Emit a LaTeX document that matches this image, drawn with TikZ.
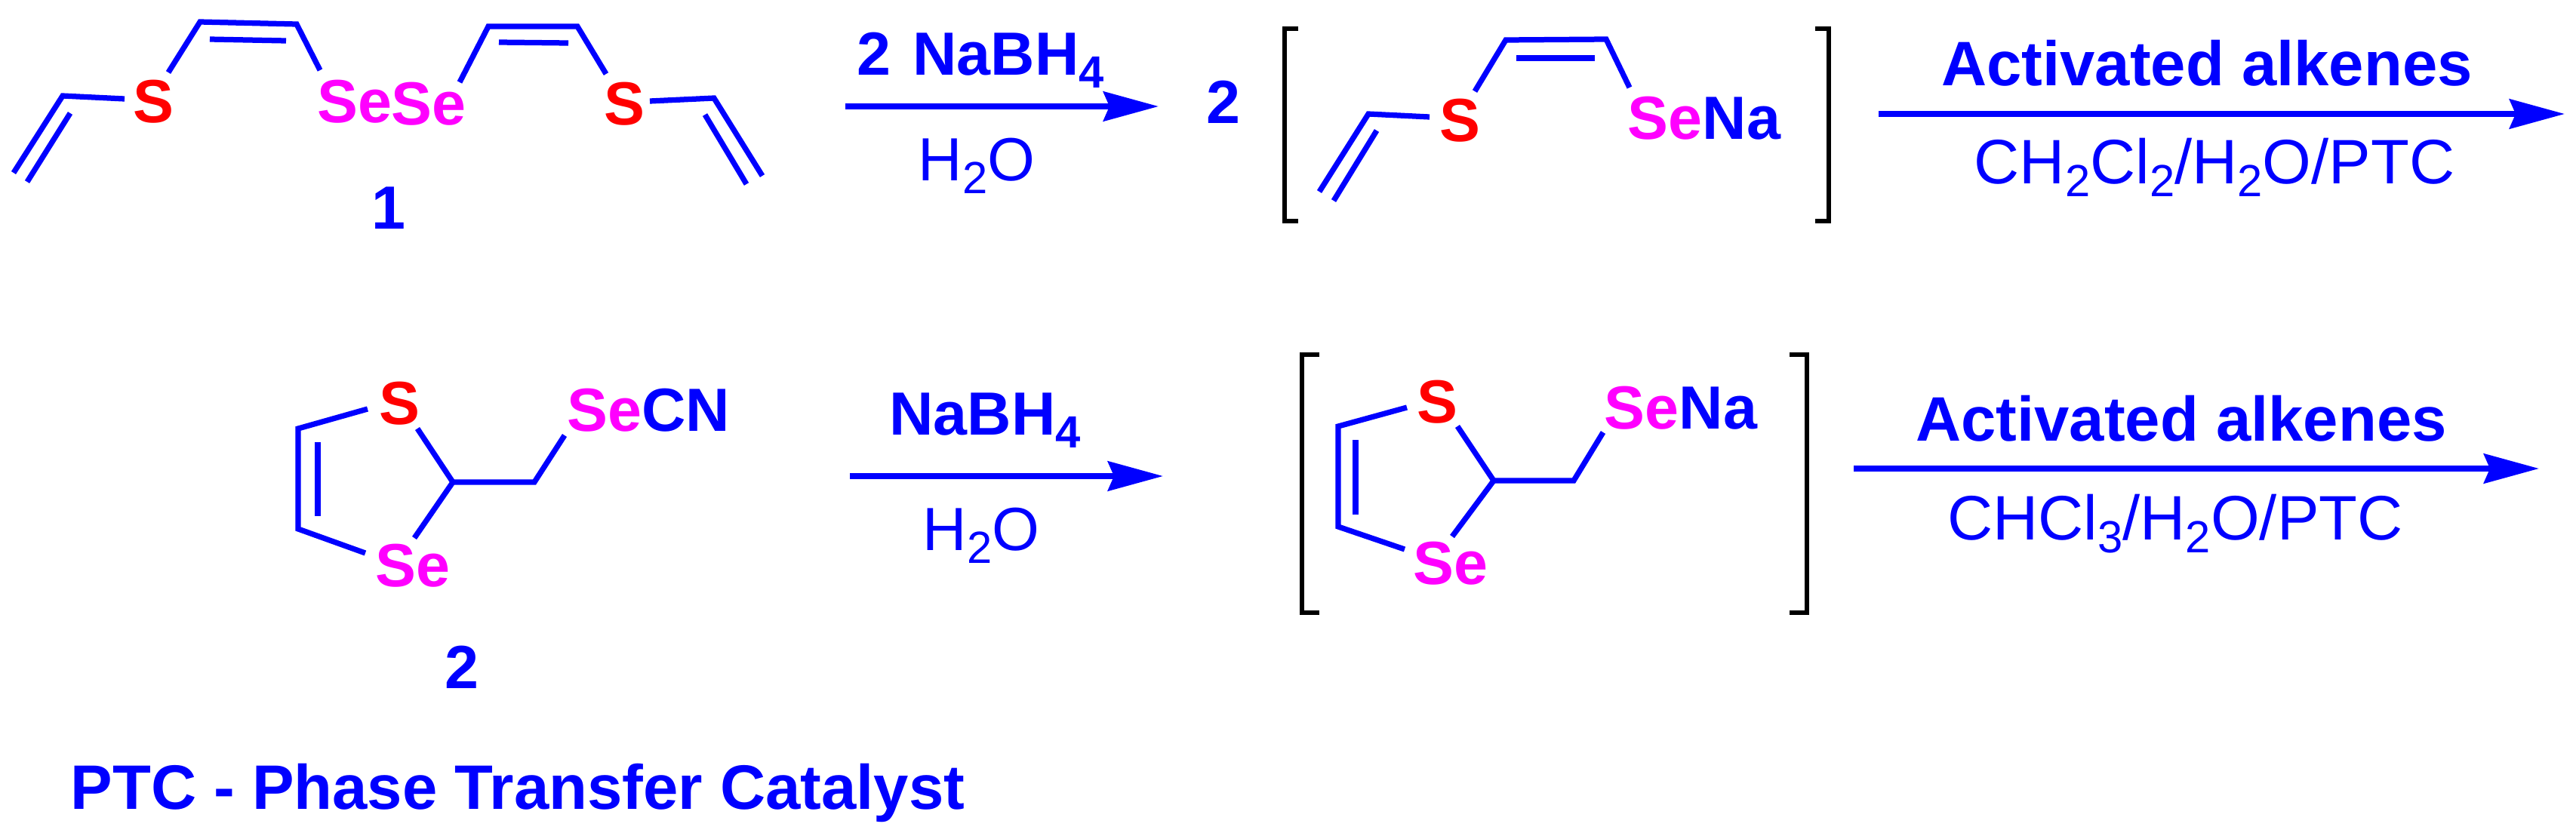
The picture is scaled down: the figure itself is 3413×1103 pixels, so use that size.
\documentclass[tikz,border=0pt]{standalone}
\usepackage{fontspec}
\setmainfont{Liberation Sans}
\usetikzlibrary{arrows.meta}
\definecolor{cblue}{HTML}{0000FF}
\definecolor{cred}{HTML}{FF0000}
\definecolor{cmag}{HTML}{FF00FF}
\newcommand{\bigf}{\fontsize{46pt}{50pt}\selectfont}
\newcommand{\longf}{\fontsize{47.4pt}{50pt}\selectfont}
\newcommand{\subf}[1]{\raisebox{-9.8pt}{\fontsize{34pt}{36pt}\selectfont #1}}
\newcommand{\Se}{\textcolor{cmag}{Se}}
\tikzset{
  bond/.style={draw=cblue,line width=0.145cm,line cap=butt,line join=miter},
  brk/.style={draw=black,line width=0.12cm,line join=miter},
  rxn/.style={draw=cblue,line width=0.16cm,-{Stealth[length=1.46cm,width=0.78cm,inset=0.16cm]}},
  lab/.style={inner sep=0pt,outer sep=0pt,anchor=base,font=\bigf\bfseries,text=cblue},
  reg/.style={inner sep=0pt,outer sep=0pt,anchor=base,font=\bigf,text=cblue},
  lablong/.style={lab,font=\longf\bfseries},
  reglong/.style={reg,font=\longf},
}
\begin{document}
\begin{tikzpicture}[x=0.02cm,y=-0.02cm]
\useasboundingbox (0,0) rectangle (3413,1103);
% --- compound 1
\node[lab,text=cred] (s1) at (203,162) {S};
\node[lab] (sese1) at (470,162) {\Se};
\node[lab] (sese2) at (568,165) {\Se};
\node[lab,text=cred] (s2) at (827,165) {S};
\node[lab] (n1) at (515,303) {1};
\coordinate (a1) at (18,229); \coordinate (a2) at (83,127); \coordinate (a3) at (165,131);
\coordinate (a4) at (36,241); \coordinate (a5) at (93,150);
\coordinate (b1) at (223,96); \coordinate (b2) at (265,29); \coordinate (b3) at (393,32); \coordinate (b4) at (424,93);
\coordinate (b5) at (278,52); \coordinate (b6) at (379,54);
\coordinate (c1) at (609,109); \coordinate (c2) at (647,35); \coordinate (c3) at (765,35); \coordinate (c4) at (803,98);
\coordinate (c5) at (661,56); \coordinate (c6) at (753,57);
\coordinate (d1) at (861,134); \coordinate (d2) at (946,130); \coordinate (d3) at (1010,233);
\coordinate (d4) at (934,152); \coordinate (d5) at (989,244);
\draw[bond] (a1) -- (a2) -- (a3);
\draw[bond] (a4) -- (a5);
\draw[bond] (b1) -- (b2) -- (b3) -- (b4);
\draw[bond] (b5) -- (b6);
\draw[bond] (c1) -- (c2) -- (c3) -- (c4);
\draw[bond] (c5) -- (c6);
\draw[bond] (d1) -- (d2) -- (d3);
\draw[bond] (d4) -- (d5);
% --- arrow 1
\node[lab] (r1a) at (1299,99) {2\hspace{4pt} NaBH\subf{4}};
\coordinate (r1s) at (1120,141); \coordinate (r1e) at (1535,141);
\draw[rxn] (r1s) -- (r1e);
\node[reg] (r1b) at (1294,239) {H\subf{2}O};
\node[lab] (two) at (1621,163) {2};
% --- bracket 1
\coordinate (k1a) at (1720,38); \coordinate (k1b) at (1702,38); \coordinate (k1c) at (1702,293); \coordinate (k1d) at (1720,293);
\draw[brk] (k1a) -- (k1b) -- (k1c) -- (k1d);
\node[lab,text=cred] (s3) at (1934,187) {S};
\node[lab] (sena1) at (2258,184) {\Se Na};
\coordinate (e1) at (1748,254); \coordinate (e2) at (1813,151); \coordinate (e3) at (1894,155);
\coordinate (e4) at (1767,266); \coordinate (e5) at (1824,173);
\coordinate (f1) at (1954,121); \coordinate (f2) at (1995,53); \coordinate (f3) at (2128,52); \coordinate (f4) at (2159,116);
\coordinate (f5) at (2009,77); \coordinate (f6) at (2113,77);
\draw[bond] (e1) -- (e2) -- (e3);
\draw[bond] (e4) -- (e5);
\draw[bond] (f1) -- (f2) -- (f3) -- (f4);
\draw[bond] (f5) -- (f6);
\coordinate (k2a) at (2405,38); \coordinate (k2b) at (2423,38); \coordinate (k2c) at (2423,293); \coordinate (k2d) at (2405,293);
\draw[brk] (k2a) -- (k2b) -- (k2c) -- (k2d);
% --- arrow 2
\node[lablong] (r2a) at (2924,113) {Activated alkenes};
\coordinate (r2s) at (2489,151); \coordinate (r2e) at (3398,151);
\draw[rxn] (r2s) -- (r2e);
\node[reglong] (r2b) at (2934,243) {CH\subf{2}Cl\subf{2}/H\subf{2}O/PTC};
% --- compound 2
\node[lab,text=cred] (s4) at (529,562) {S};
\node[lab] (se4) at (547,777) {\Se};
\node[lab] (secn) at (859,571) {\Se CN};
\node[lab] (n2) at (612,912) {2};
\coordinate (g1) at (487,542); \coordinate (g2) at (395,568); \coordinate (g3) at (395,701); \coordinate (g4) at (484,733);
\coordinate (g5) at (421,586); \coordinate (g6) at (421,684);
\coordinate (h1) at (553,568); \coordinate (h2) at (600,639); \coordinate (h3) at (549,713);
\coordinate (h4) at (708,639); \coordinate (h5) at (748,577);
\draw[bond] (g1) -- (g2) -- (g3) -- (g4);
\draw[bond] (g5) -- (g6);
\draw[bond] (h1) -- (h2) -- (h3);
\draw[bond] (h2) -- (h4) -- (h5);
% --- arrow 3
\node[lab] (r3a) at (1305,576) {NaBH\subf{4}};
\coordinate (r3s) at (1126,631); \coordinate (r3e) at (1541,631);
\draw[rxn] (r3s) -- (r3e);
\node[reg] (r3b) at (1300,729) {H\subf{2}O};
% --- bracket 2
\coordinate (m1a) at (1748,470); \coordinate (m1b) at (1725,470); \coordinate (m1c) at (1725,812); \coordinate (m1d) at (1748,812);
\draw[brk] (m1a) -- (m1b) -- (m1c) -- (m1d);
\node[lab,text=cred] (s5) at (1904,560) {S};
\node[lab] (se5) at (1922,774) {\Se};
\node[lab] (sena2) at (2227,568) {\Se Na};
\coordinate (p1) at (1864,540); \coordinate (p2) at (1773,565); \coordinate (p3) at (1773,698); \coordinate (p4) at (1861,728);
\coordinate (p5) at (1796,583); \coordinate (p6) at (1796,682);
\coordinate (q1) at (1931,565); \coordinate (q2) at (1979,637); \coordinate (q3) at (1924,711);
\coordinate (q4) at (2085,637); \coordinate (q5) at (2124,573);
\draw[bond] (p1) -- (p2) -- (p3) -- (p4);
\draw[bond] (p5) -- (p6);
\draw[bond] (q1) -- (q2) -- (q3);
\draw[bond] (q2) -- (q4) -- (q5);
\coordinate (m2a) at (2371,470); \coordinate (m2b) at (2394,470); \coordinate (m2c) at (2394,812); \coordinate (m2d) at (2371,812);
\draw[brk] (m2a) -- (m2b) -- (m2c) -- (m2d);
% --- arrow 4
\node[lablong] (r4a) at (2890,584) {Activated alkenes};
\coordinate (r4s) at (2456,621); \coordinate (r4e) at (3364,621);
\draw[rxn] (r4s) -- (r4e);
\node[reglong] (r4b) at (2882,715) {CHCl\subf{3}/H\subf{2}O/PTC};
% --- footnote
\node[lablong] (ptc) at (686,1072) {PTC - Phase Transfer Catalyst};
\end{tikzpicture}
\end{document}
